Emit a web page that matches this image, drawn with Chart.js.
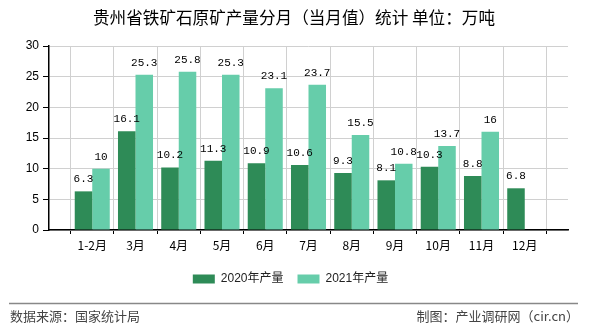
<!DOCTYPE html>
<html lang="zh-CN">
<head>
<meta charset="UTF-8">
<title>贵州省铁矿石原矿产量分月（当月值）统计</title>
<script src="https://cdn.jsdelivr.net/npm/chart.js"></script>
<style>
  html, body { margin: 0; padding: 0; background: #fff; }
  #box { width: 590px; height: 330px; }
</style>
</head>
<body>
<div id="box"><canvas id="grafico" width="590" height="330"></canvas></div>
<script>
// dados
const meses = ['1-2月', '3月', '4月', '5月', '6月', '7月', '8月', '9月', '10月', '11月', '12月'];
const producao2020 = [6.3, 16.1, 10.2, 11.3, 10.9, 10.6, 9.3, 8.1, 10.3, 8.8, 6.8];
const producao2021 = [10, 25.3, 25.8, 25.3, 23.1, 23.7, 15.5, 10.8, 13.7, 16, null];
const ticksY = [0, 5, 10, 15, 20, 25, 30];

// uma posição vazia em cada ponta do eixo
const labels = [''].concat(meses, ['']);
const serie2020 = [null].concat(producao2020, [null]);
const serie2021 = [null].concat(producao2021, [null]);

const fonteCJK = '"Noto Sans CJK SC", "Noto Sans", sans-serif';

// título no topo
const titulo = {
  id: 'titulo',
  afterDraw(chart) {
    const ctx = chart.ctx;
    ctx.save();
    ctx.font = '16.6px ' + fonteCJK;
    ctx.fillStyle = '#000';
    ctx.textAlign = 'center';
    ctx.textBaseline = 'middle';
    ctx.fillText('贵州省铁矿石原矿产量分月（当月值）统计 单位：万吨', 294, 18);
    ctx.restore();
  }
};

// rótulos de valor em cima das barras
const rotulos = {
  id: 'rotulos',
  afterDatasetsDraw(chart) {
    const ctx = chart.ctx;
    ctx.save();
    ctx.font = '11px "Liberation Mono", "DejaVu Sans Mono", monospace';
    ctx.fillStyle = '#000';
    ctx.textAlign = 'center';
    ctx.textBaseline = 'alphabetic';
    chart.data.datasets.forEach((ds, i) => {
      const meta = chart.getDatasetMeta(i);
      meta.data.forEach((bar, j) => {
        const v = ds.data[j];
        if (v == null) return;
        ctx.fillText(String(v), bar.x, bar.y - 9);
      });
    });
    ctx.restore();
  }
};

// rodapé: linha e fontes
const rodape = {
  id: 'rodape',
  afterDraw(chart) {
    const ctx = chart.ctx;
    ctx.save();
    ctx.strokeStyle = '#888';
    ctx.lineWidth = 1.5;
    ctx.beginPath();
    ctx.moveTo(9, 303.5);
    ctx.lineTo(578, 303.5);
    ctx.stroke();
    ctx.font = '13px ' + fonteCJK;
    ctx.fillStyle = '#444';
    ctx.textBaseline = 'middle';
    ctx.textAlign = 'left';
    ctx.fillText('数据来源：国家统计局', 10, 316);
    ctx.textAlign = 'right';
    ctx.fillText('制图：产业调研网（cir.cn）', 579, 316);
    ctx.restore();
  }
};

const config = {
  type: 'bar',
  data: {
    labels: labels,
    datasets: [
      {
        label: '2020年产量',
        data: serie2020,
        backgroundColor: '#2e8b57',
        categoryPercentage: 0.81,
        barPercentage: 1
      },
      {
        label: '2021年产量',
        data: serie2021,
        backgroundColor: '#66cdaa',
        categoryPercentage: 0.81,
        barPercentage: 1
      }
    ]
  },
  options: {
    responsive: false,
    animation: false,
    layout: { padding: { top: 46, right: 9, bottom: 35, left: 0 } },
    plugins: {
      title: { display: false },
      legend: {
        position: 'bottom',
        labels: {
          boxWidth: 22,
          boxHeight: 9,
          color: '#222',
          font: { family: '"Liberation Sans", "Noto Sans CJK SC", sans-serif', size: 12 },
          padding: 14
        }
      },
      tooltip: { enabled: false }
    },
    scales: {
      x: {
        offset: false,
        grid: { color: '#d0d0d0', tickColor: '#000', tickLength: 4 },
        border: { color: '#000', width: 1.5 },
        ticks: {
          color: '#000',
          padding: 4,
          maxRotation: 0,
          autoSkip: false,
          font: { family: fonteCJK, size: 12 }
        },
        afterFit(scale) { scale.height = 29; }
      },
      y: {
        min: 0,
        max: 30,
        afterBuildTicks(scale) { scale.ticks = ticksY.map(v => ({ value: v })); },
        grid: { color: '#d0d0d0', tickColor: '#000', tickLength: 6 },
        border: { color: '#000', width: 1.5 },
        ticks: {
          color: '#000',
          padding: 4,
          font: { family: '"Liberation Sans", sans-serif', size: 12 }
        },
        afterFit(scale) { scale.width = 49; }
      },
      // eixo vazio só para reservar a margem direita do gráfico
      margemDireita: {
        position: 'right',
        min: 0,
        max: 30,
        grid: { display: false },
        border: { display: false },
        ticks: { display: false },
        afterFit(scale) { scale.width = 13; }
      }
    }
  },
  plugins: [titulo, rotulos, rodape]
};

const meuGrafico = new Chart(document.getElementById('grafico'), config);
</script>
</body>
</html>
